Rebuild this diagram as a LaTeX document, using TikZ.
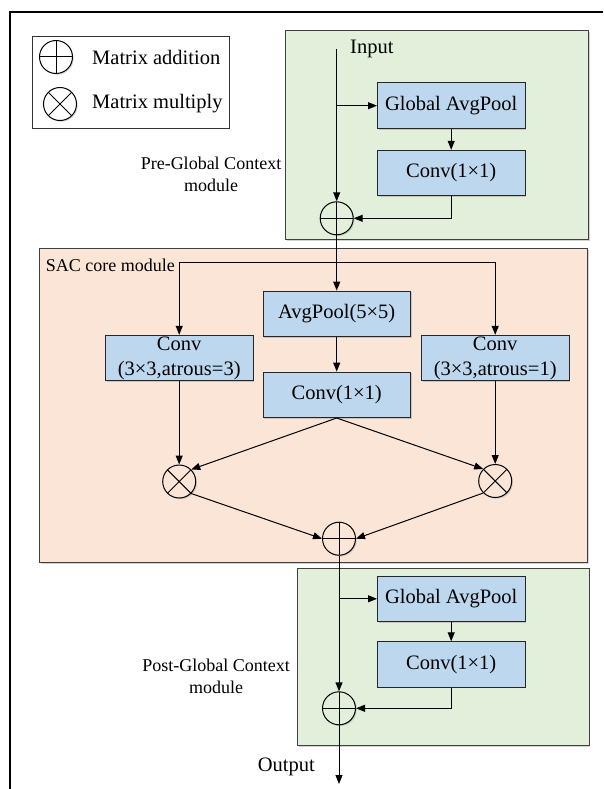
\documentclass[tikz,border=0pt]{standalone}
\usepackage{fontspec}
\setmainfont{Liberation Serif}
\usetikzlibrary{arrows.meta,shadows,calc}
\definecolor{greenbg}{HTML}{E2EFDA}
\definecolor{peachbg}{HTML}{FBE5D6}
\definecolor{bluebox}{HTML}{BDD7EE}
\newcommand{\bigtxt}{\fontsize{20.5}{25}\selectfont}
\newcommand{\smalltxt}{\fontsize{18}{22}\selectfont}
\begin{document}
\begin{tikzpicture}[x=1pt,y=-1pt,
 shd/.style={drop shadow={opacity=0.35,shadow xshift=1.2pt,shadow yshift=-1.2pt,fill=black!50}},
 module/.style={draw=black!75,line width=0.9pt,inner sep=0pt,shd},
 blk/.style={draw=black!85,fill=bluebox,line width=0.9pt,minimum width=147.5pt,minimum height=45.5pt,inner sep=0pt,font=\bigtxt,align=center,shd},
 opcirc/.style={circle,draw=black,line width=1pt,minimum size=33pt,inner sep=0pt,shd},
 addop/.style={opcirc,path picture={\draw[line width=1pt] (path picture bounding box.north)--(path picture bounding box.south) (path picture bounding box.west)--(path picture bounding box.east);}},
 mulop/.style={opcirc,path picture={\draw[line width=1pt] (path picture bounding box.north west)--(path picture bounding box.south east) (path picture bounding box.north east)--(path picture bounding box.south west);}},
 arr/.style={-{Triangle[length=9pt,width=7pt]},line width=1pt},
 ln/.style={line width=1pt},
 lbl/.style={font=\smalltxt,align=center,inner sep=0pt},
 txt/.style={font=\bigtxt,inner sep=0pt}]
\useasboundingbox (0,0) rectangle (603,789);
\fill[white] (0,0) rectangle (603,789);
% outer frame
\draw[line width=2pt] (10,789) -- (10,12) -- (603,12);
% legend
\node[draw=black!80,line width=0.8pt,fill=white,shd,minimum width=197pt,minimum height=92pt,inner sep=0pt] (legend) at (130.5,82) {};
\node[addop,fill=white] (la) at (56,57) {};
\node[mulop,fill=white] (lm) at (60,104) {};
\node[txt,anchor=west] (lat) at (92,57) {Matrix addition};
\node[txt,anchor=west] (lmt) at (92,103.5) {Matrix multiply};
% modules
\node[module,fill=greenbg,minimum width=303pt,minimum height=208.6pt] (pre) at (436.8,135) {};
\node[module,fill=peachbg,minimum width=548.4pt,minimum height=314pt] (sac) at (313.5,405.3) {};
\node[module,fill=greenbg,minimum width=291.7pt,minimum height=177pt] (post) at (443.15,656.8) {};
% labels
\node[lbl] (prelbl) at (211,174) {Pre-Global Context\\module};
\node[lbl] (postlbl) at (216.2,676.2) {Post-Global Context\\module};
\node[lbl,anchor=west] (saclbl) at (45.7,265) {SAC core module};
\node[txt,anchor=west] (inlbl) at (350,49) {Input};
\node[txt,anchor=east] (outlbl) at (315,766.7) {Output};
% pre module
\coordinate (inTop) at (336.7,49);
\node[blk] (preGAP) at (451.2,105.7) {Global AvgPool};
\node[blk] (preConv) at (451.2,173) {Conv(1×1)};
\node[addop,fill=greenbg] (prePlus) at (336.7,218.3) {};
% SAC
\coordinate (split) at (336.7,262.3);
\node[blk] (avg) at (336.7,313.8) {AvgPool(5×5)};
\node[blk] (convc) at (336.7,394.8) {Conv(1×1)};
\node[blk] (convL) at (179.2,358) {Conv\\(3×3,atrous=3)};
\node[blk] (convR) at (495.2,358) {Conv\\(3×3,atrous=1)};
\node[mulop,fill=peachbg] (mulL) at (179.2,481.5) {};
\node[mulop,fill=peachbg] (mulR) at (495.2,481) {};
\node[addop,fill=peachbg] (plusC) at (339,538.7) {};
% post module
\node[blk] (postGAP) at (451.2,598.8) {Global AvgPool};
\node[blk] (postConv) at (451.2,664.5) {Conv(1×1)};
\node[addop,fill=greenbg] (postPlus) at (339,708.3) {};
\coordinate (outEnd) at (339,784);
% connectors pre
\draw[arr] (inTop) -- (prePlus.north);
\draw[arr] (inTop |- preGAP.west) -- (preGAP.west);
\draw[arr] (preGAP) -- (preConv);
\draw[arr] (preConv.south) |- (prePlus.east);
\draw[arr] (prePlus.south) -- (avg.north);
% connectors SAC
\draw[ln] (convL.north |- split) -- (convR.north |- split);
\draw[arr] (convL.north |- split) -- (convL.north);
\draw[arr] (convR.north |- split) -- (convR.north);
\draw[arr] (avg) -- (convc);
\draw[arr] (convL) -- (mulL);
\draw[arr] (convR) -- (mulR);
\draw[arr] (convc.south) -- (mulL.45);
\draw[arr] (convc.south) -- (mulR.135);
\draw[arr] (mulL.-45) -- (plusC.west);
\draw[arr] (mulR.-135) -- (plusC.east);
% connectors post
\draw[arr] (plusC.south) -- (postPlus.north);
\draw[arr] (plusC.south |- postGAP.west) -- (postGAP.west);
\draw[arr] (postGAP) -- (postConv);
\draw[arr] (postConv.south) |- (postPlus.east);
\draw[arr] (postPlus.south) -- (outEnd);
\end{tikzpicture}
\end{document}
